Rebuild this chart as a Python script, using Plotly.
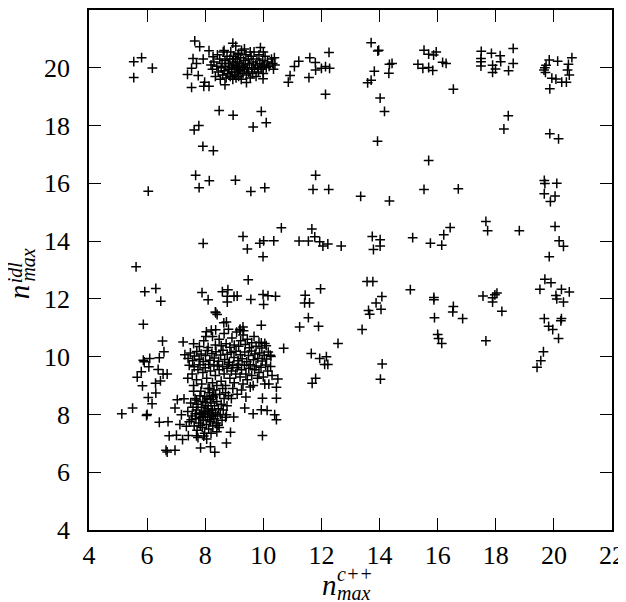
import plotly.graph_objects as go

# points, grouped by region: (n_max c++, n_max idl)
top_band = [
    (5.54, 20.21), (5.81, 20.35), (5.54, 19.66), (6.18, 19.99),
    (7.64, 20.93), (7.81, 20.73), (7.58, 20.32), (7.70, 20.15), (7.39, 19.77), (7.53, 19.32),
    (7.76, 19.73), (7.53, 19.98), (7.98, 19.50), (7.95, 19.36), (8.13, 19.36), (8.13, 20.59),
    (7.93, 20.30), (8.27, 20.38), (8.68, 19.41), (9.42, 19.49), (9.99, 19.62),
    (10.86, 19.50), (10.92, 19.73), (11.07, 20.04), (11.22, 20.23), (11.57, 19.66), (11.60, 20.35),
    (11.79, 20.18), (11.80, 19.92), (12.00, 19.98), (12.14, 20.04), (12.28, 19.98), (12.26, 20.53),
    (12.14, 19.08),
    (13.71, 20.87), (13.97, 20.61), (13.94, 20.58), (13.82, 19.88), (13.71, 19.57), (13.59, 19.48),
    (14.32, 19.81), (14.34, 20.12), (14.43, 20.15), (14.02, 18.95), (14.17, 18.49), (13.93, 17.46),
    (15.53, 20.61), (15.69, 20.47), (15.86, 20.44), (15.95, 20.55), (15.32, 20.12), (15.49, 19.98),
    (15.69, 20.01), (15.83, 19.91), (16.17, 20.19), (16.29, 20.15), (16.54, 19.26),
    (17.50, 20.57), (17.49, 20.32), (17.49, 20.21), (17.49, 20.06), (17.85, 20.50), (17.89, 20.09),
    (17.89, 19.84), (17.99, 19.96), (18.15, 20.42), (18.17, 20.21), (18.44, 19.90), (18.60, 20.67),
    (18.60, 20.15), (18.43, 18.34), (18.28, 17.88),
    (19.73, 20.09), (19.69, 20.00), (19.66, 19.92), (19.71, 19.84), (19.84, 20.27), (20.13, 20.23),
    (20.50, 20.12), (20.47, 19.92), (20.53, 19.75), (20.62, 20.35), (19.93, 19.64), (20.07, 19.61),
    (20.27, 19.50), (20.43, 19.50), (19.86, 19.27), (19.86, 17.72), (20.16, 17.54),
]

top_cluster = [
    (8.20, 20.10), (8.25, 19.95), (8.30, 20.20), (8.35, 19.70), (8.40, 20.05), (8.42, 20.45),
    (8.45, 19.85), (8.50, 20.30), (8.52, 19.60), (8.55, 20.00), (8.58, 20.15), (8.60, 19.75),
    (8.62, 20.55), (8.65, 19.90), (8.68, 20.25), (8.70, 20.05), (8.72, 19.65), (8.75, 20.40),
    (8.78, 19.80), (8.80, 20.15), (8.82, 19.95), (8.85, 20.30), (8.86, 19.70), (8.88, 20.55),
    (8.90, 20.00), (8.92, 19.85), (8.94, 20.20), (8.95, 19.60), (8.97, 20.40), (8.98, 20.10),
    (9.00, 19.75), (9.02, 19.95), (9.04, 20.30), (9.05, 20.75), (9.06, 19.65), (9.08, 20.05),
    (9.10, 20.20), (9.11, 19.85), (9.13, 20.45), (9.15, 19.70), (9.16, 20.00), (9.18, 20.15),
    (9.20, 19.90), (9.22, 20.35), (9.24, 19.60), (9.25, 20.60), (9.27, 20.05), (9.30, 19.80),
    (9.32, 20.25), (9.35, 19.95), (9.38, 20.10), (9.40, 20.45), (9.42, 19.75), (9.45, 20.00),
    (9.48, 20.30), (9.50, 19.85), (9.52, 20.15), (9.55, 19.65), (9.58, 20.40), (9.60, 20.00),
    (9.63, 19.80), (9.65, 20.20), (9.68, 20.55), (9.70, 19.95), (9.73, 20.10), (9.75, 19.70),
    (9.78, 20.30), (9.80, 20.00), (9.83, 19.85), (9.85, 20.45), (9.88, 20.15), (9.90, 20.70),
    (9.92, 19.95), (9.95, 20.05), (9.98, 20.25), (10.00, 19.80), (10.03, 20.10), (10.06, 20.40),
    (10.10, 20.00), (10.15, 20.20), (10.20, 20.05), (10.28, 20.30), (10.32, 20.15), (10.38, 20.35),
    (8.95, 20.85), (9.35, 20.65), (8.65, 20.60), (9.55, 20.55), (10.00, 20.55), (9.15, 20.50),
    (10.40, 20.10), (10.35, 19.95),
]

middle_band = [
    (8.48, 18.52), (8.96, 18.36), (9.93, 18.49), (9.65, 17.95), (10.10, 18.10), (7.62, 17.85),
    (7.78, 18.00), (7.92, 17.28), (8.28, 17.13),
    (7.67, 16.28), (7.79, 15.85), (8.14, 16.09), (9.04, 16.11), (9.57, 15.72), (10.05, 15.85),
    (6.04, 15.73), (11.80, 16.28), (11.71, 15.79), (12.25, 15.79), (15.69, 16.79), (15.53, 15.79),
    (16.71, 15.81), (19.67, 16.10), (19.69, 15.99), (20.10, 16.00), (19.67, 15.64), (20.04, 15.56),
    (19.88, 15.37), (13.35, 15.55), (14.34, 15.39),
    (10.62, 14.46), (11.67, 14.42), (9.30, 14.16), (11.77, 14.15), (7.93, 13.92), (9.45, 13.73),
    (9.88, 13.93), (10.01, 14.01), (10.36, 14.01), (11.23, 14.00), (11.55, 14.00), (11.94, 13.98),
    (12.05, 13.83), (12.22, 13.90), (9.99, 13.46), (12.68, 13.83),
    (13.75, 14.16), (14.02, 14.05), (13.79, 13.71), (14.02, 13.83), (15.14, 14.12), (15.75, 13.93),
    (16.14, 13.86), (16.21, 14.22), (16.43, 14.47),
    (17.66, 14.68), (17.72, 14.36), (18.81, 14.36), (20.04, 14.51), (20.18, 14.01), (20.33, 13.82),
    (19.84, 13.46),
]

twelve_band = [
    (5.62, 13.11), (9.48, 12.66), (5.92, 12.25), (6.30, 12.36), (6.47, 11.92), (7.89, 12.22),
    (8.10, 11.97), (8.59, 12.25), (8.78, 12.32), (8.76, 12.09), (8.76, 11.89), (8.99, 12.09),
    (9.10, 12.10), (9.57, 11.98), (9.99, 12.15), (10.16, 12.11), (10.42, 12.09), (10.01, 11.81),
    (11.44, 12.13), (11.42, 11.86), (11.59, 11.86), (11.97, 12.35), (8.35, 11.55), (8.41, 11.46),
    (11.55, 11.35),
    (13.57, 12.60), (13.77, 12.60), (15.06, 12.32), (14.08, 12.08), (13.88, 11.86), (13.62, 11.60),
    (13.66, 11.47), (14.05, 11.64), (15.87, 12.05), (15.87, 11.97), (16.54, 11.74), (16.52, 11.55),
    (16.86, 11.32), (15.89, 11.35),
    (17.56, 12.10), (17.89, 12.04), (17.97, 12.14), (18.04, 12.20), (17.89, 11.89), (18.21, 11.57),
    (19.69, 12.68), (19.90, 12.56), (19.52, 12.33), (20.26, 12.33), (20.53, 12.24), (20.07, 12.12),
    (20.10, 12.00), (20.33, 11.89), (19.67, 11.32), (20.26, 11.32),
]

lower_right = [
    (11.25, 11.03), (11.90, 11.05), (10.70, 10.29), (11.65, 10.11), (11.94, 9.94), (12.17, 10.00),
    (12.11, 9.73), (12.22, 9.73), (12.57, 10.46), (13.40, 10.94), (11.80, 9.25), (11.68, 9.08),
    (14.09, 9.75), (14.03, 9.22),
    (16.00, 10.77), (16.03, 10.63), (16.14, 10.46), (17.66, 10.55), (19.82, 11.05), (19.96, 10.94),
    (20.24, 11.24), (20.16, 10.63), (19.64, 10.17), (19.55, 9.86), (19.42, 9.63),
]

left_outer = [
    (5.87, 11.12), (8.36, 11.52), (8.64, 11.17), (8.73, 11.20), (9.93, 11.09), (6.53, 10.54),
    (6.58, 10.17), (5.87, 9.88), (5.90, 9.82), (6.09, 9.94), (6.42, 9.96), (6.06, 9.65),
    (5.80, 9.48), (5.66, 9.29), (6.38, 9.56), (6.55, 9.40), (6.69, 9.40), (5.84, 8.99),
    (6.29, 9.08), (6.46, 9.16), (6.30, 8.74), (6.04, 8.59), (6.17, 8.37), (5.50, 8.22),
    (5.13, 8.02), (5.98, 7.96), (6.00, 8.00), (6.42, 7.73), (6.72, 7.75), (7.04, 8.51),
    (7.27, 8.54), (6.76, 7.26), (7.01, 7.28), (7.22, 7.13), (7.42, 7.27), (7.70, 7.26),
    (6.65, 6.76), (6.69, 6.70), (6.96, 6.76), (7.84, 6.84), (8.18, 6.88), (8.33, 6.69),
    (8.73, 7.01), (8.87, 7.38), (9.97, 7.27), (6.96, 8.22), (7.18, 7.99), (7.13, 7.65),
    (7.35, 7.59), (8.73, 7.99), (8.98, 7.91), (9.36, 8.22), (9.65, 8.02), (9.93, 8.16),
    (10.13, 8.14), (10.39, 7.99), (10.45, 7.82), (10.45, 8.56), (10.50, 9.23), (10.45, 8.94),
    (10.19, 9.05), (9.97, 8.56), (9.93, 10.48), (10.05, 10.46), (10.24, 10.05), (7.24, 10.51),
    (9.30, 11.03), (9.32, 10.90), (9.19, 10.92), (8.04, 10.86), (8.21, 10.92), (8.36, 10.93),
]

core_upper = [
    (7.30, 10.07), (7.41, 9.94), (7.49, 10.13), (7.57, 9.86), (7.63, 10.02), (7.71, 10.18),
    (7.79, 9.91), (7.86, 10.09), (7.93, 9.83), (8.01, 10.04), (8.07, 10.21), (8.16, 9.88),
    (8.23, 10.11), (8.31, 9.95), (8.37, 10.17), (8.46, 9.84), (8.53, 10.06), (8.61, 10.22),
    (8.67, 9.90), (8.76, 10.08), (8.83, 9.81), (8.89, 10.14), (8.99, 9.97), (9.06, 10.19),
    (9.13, 9.86), (9.21, 10.07), (9.27, 9.93), (9.36, 10.16), (9.43, 9.82), (9.49, 10.04),
    (9.59, 10.20), (9.66, 9.89), (9.71, 10.09), (9.81, 9.94), (9.87, 10.13), (9.96, 9.85),
    (10.03, 10.05), (10.11, 9.92), (10.17, 10.16), (10.26, 10.01),
    (7.80, 10.35), (7.95, 10.55), (8.10, 10.32), (8.25, 10.70), (8.35, 10.40), (8.48, 10.60),
    (8.55, 10.38), (8.65, 10.80), (8.72, 10.45), (8.85, 10.33), (8.92, 10.65), (9.00, 10.40),
    (9.08, 10.85), (9.15, 10.36), (9.22, 10.55), (9.30, 10.75), (9.38, 10.42), (9.45, 10.60),
    (9.52, 10.31), (9.60, 10.48), (9.68, 10.70), (9.75, 10.36), (9.85, 10.50), (9.95, 10.30),
    (10.10, 10.38), (8.02, 10.70), (7.60, 10.45), (9.20, 10.95), (8.80, 10.95),
    (7.45, 9.70), (7.55, 9.40), (7.62, 9.65), (7.70, 9.20), (7.75, 9.55), (7.82, 9.72),
    (7.88, 9.05), (7.92, 9.45), (8.00, 9.62), (8.05, 9.25), (8.12, 9.73), (8.18, 9.50),
    (8.25, 9.10), (8.30, 9.68), (8.35, 9.35), (8.42, 9.71), (8.48, 9.55), (8.55, 9.15),
    (8.60, 9.66), (8.65, 9.40), (8.70, 9.00), (8.75, 9.60), (8.80, 9.73), (8.85, 9.25),
    (8.90, 9.50), (8.95, 9.69), (9.00, 9.10), (9.05, 9.40), (9.10, 9.62), (9.15, 9.74),
    (9.20, 9.30), (9.25, 9.55), (9.30, 9.05), (9.35, 9.70), (9.40, 9.40), (9.45, 9.20),
    (9.50, 9.60), (9.55, 9.72), (9.60, 9.35), (9.65, 9.00), (9.70, 9.55), (9.75, 9.68),
    (9.80, 9.25), (9.85, 9.45), (9.92, 9.63), (10.00, 9.30), (10.08, 9.71), (10.15, 9.50),
    (10.25, 9.66), (10.30, 9.35), (8.40, 9.00), (8.95, 8.90), (9.25, 8.85), (9.55, 8.95),
    (8.15, 8.90), (7.60, 9.00), (7.40, 9.25), (10.05, 9.05), (8.70, 8.75), (9.10, 8.70),
    (9.40, 8.60), (8.90, 8.55),
]

core_lower = [
    (7.40, 8.10), (7.45, 7.75), (7.50, 8.40), (7.55, 7.95), (7.58, 8.25), (7.62, 7.60),
    (7.65, 8.55), (7.68, 7.85), (7.70, 8.15), (7.72, 7.45), (7.75, 8.35), (7.78, 7.70),
    (7.80, 8.00), (7.82, 8.65), (7.85, 7.90), (7.87, 8.25), (7.90, 7.55), (7.92, 8.45),
    (7.94, 7.80), (7.96, 8.10), (7.98, 7.35), (8.00, 8.00), (8.02, 8.30), (8.04, 7.65),
    (8.06, 8.55), (8.08, 7.90), (8.10, 8.20), (8.12, 7.50), (8.14, 8.75), (8.16, 8.05),
    (8.18, 7.75), (8.20, 8.40), (8.22, 7.95), (8.24, 8.15), (8.26, 7.60), (8.28, 8.60),
    (8.30, 7.85), (8.32, 8.30), (8.35, 8.05), (8.38, 7.70), (8.40, 8.45), (8.42, 7.95),
    (8.45, 8.20), (8.48, 7.55), (8.50, 8.70), (8.52, 8.00), (8.55, 8.35), (8.58, 7.80),
    (8.62, 8.15), (8.65, 8.55), (8.70, 7.90), (8.75, 8.30), (8.80, 8.65), (7.85, 8.80),
    (8.10, 8.90), (7.60, 8.80), (8.30, 8.85), (7.95, 7.25), (8.20, 7.35), (8.05, 7.15),
    (7.75, 7.20), (8.40, 7.40), (7.88, 8.05), (8.08, 8.12), (7.92, 7.92), (8.15, 7.82),
    (8.00, 8.42), (7.70, 8.50), (8.25, 8.65), (8.60, 8.90), (7.83, 7.62), (8.27, 7.98),
    (7.98, 8.62), (8.44, 7.63), (7.66, 8.02), (8.18, 8.52), (8.36, 8.68), (7.52, 7.82),
]

groups = [top_band, top_cluster, middle_band, twelve_band, lower_right,
          left_outer, core_upper, core_lower]
points = [p for g in groups for p in g]
xs = [p[0] for p in points]
ys = [p[1] for p in points]

ticks = [4, 6, 8, 10, 12, 14, 16, 18, 20, 22]
serif = "Liberation Serif, DejaVu Serif, serif"

fig = go.Figure(go.Scatter(
    x=xs, y=ys, mode="markers",
    marker=dict(symbol="cross-thin", size=7, color="black",
                line=dict(color="black", width=1.5)),
    showlegend=False,
))

axis_style = dict(range=[4, 22], tickvals=ticks, ticks="inside", ticklen=12,
                  tickwidth=1.3, tickcolor="black", mirror="ticks", showline=True,
                  linecolor="black", linewidth=1.5, showgrid=False, zeroline=False,
                  tickfont=dict(family=serif, size=26, color="black"))


def label(text, x, y, size, angle=0):
    return dict(text=text, x=x, y=y, xref="paper", yref="paper",
                xanchor="center", yanchor="middle", textangle=angle,
                showarrow=False, font=dict(family=serif, size=size, color="black"))


# the page body adds an 8px margin; figure is shrunk so it fits the window
fig.update_layout(
    width=618, height=594,
    margin=dict(l=81, r=14, t=0, b=72),
    font=dict(family=serif, color="black"),
    paper_bgcolor="white", plot_bgcolor="white",
    xaxis=dict(axis_style, ticklabelstandoff=1),
    yaxis=dict(axis_style, ticklabelstandoff=12),
    annotations=[
        # x axis label: n with sup c++ and sub max
        label("<i>n</i>", 0.459, -0.105, 29),
        label("<i>c++</i>", 0.509, -0.084, 20),
        label("<i>max</i>", 0.505, -0.121, 20),
        # y axis label, rotated
        label("<i>n</i>", -0.135, 0.458, 29, -90),
        label("<i>idl</i>", -0.141, 0.496, 20, -90),
        label("<i>max</i>", -0.117, 0.510, 20, -90),
    ],
)

fig.write_html("out.html")
